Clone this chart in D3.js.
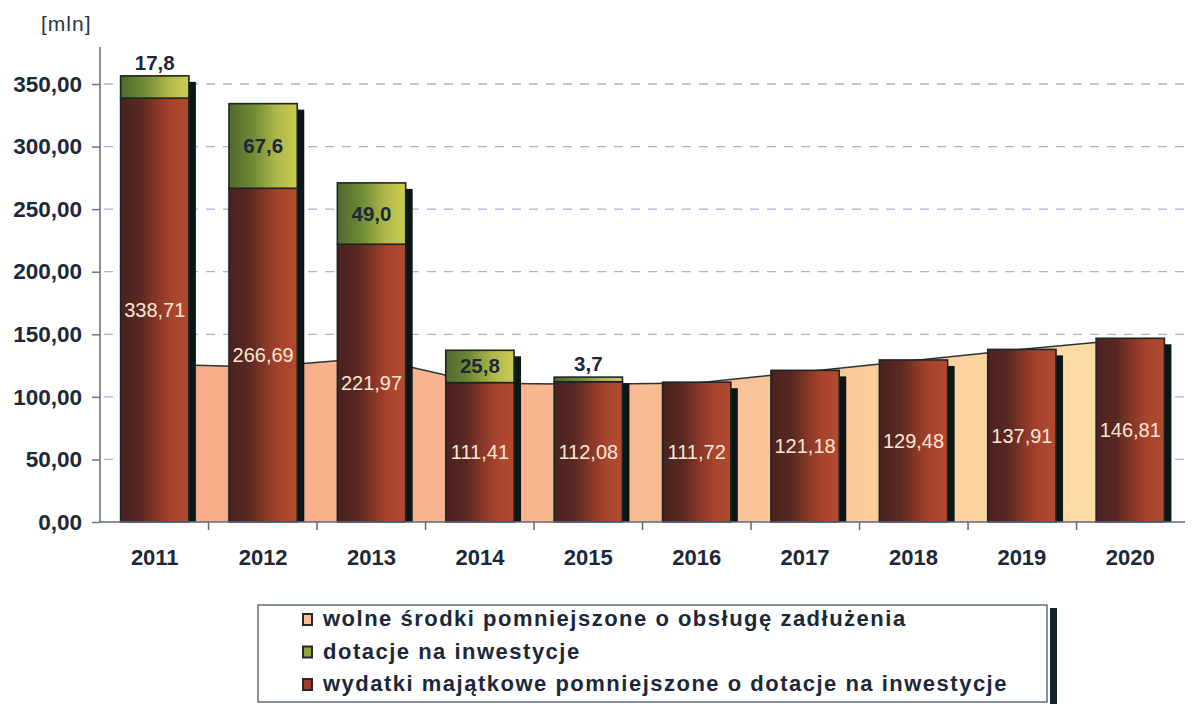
<!DOCTYPE html>
<html>
<head>
<meta charset="utf-8">
<script src="https://cdn.jsdelivr.net/npm/d3@7"></script>
<style>
  html, body { margin: 0; padding: 0; background: #fff; }
  svg { display: block; font-family: "Liberation Sans", Arial, sans-serif; }
</style>
</head>
<body>
<div id="chart"></div>
<script>
// categories and series (values in mln)
const years = ['2011', '2012', '2013', '2014', '2015', '2016', '2017', '2018', '2019', '2020'];
const wydatki = [338.71, 266.69, 221.97, 111.41, 112.08, 111.72, 121.18, 129.48, 137.91, 146.81];
const dotacje = [17.8, 67.6, 49.0, 25.8, 3.7, 0, 0, 0, 0, 0];
const wolneSrodki = [126, 124, 131, 111, 110, 111, 120, 129, 138, 146];
const yTicks = [0, 50, 100, 150, 200, 250, 300, 350];
const legendLabels = [
  'wolne środki pomniejszone o obsługę zadłużenia',
  'dotacje na inwestycje',
  'wydatki majątkowe pomniejszone o dotacje na inwestycje'
];

const width = 1193;
const height = 704;
const margin = { top: 47, right: 8, bottom: 182, left: 100 };

const pl = d3.formatLocale({ decimal: ',', thousands: ' ', grouping: [3], currency: ['', ''] });
const fmt2 = pl.format('.2f');
const fmt1 = pl.format('.1f');

const textColor = '#1c2838';
const edgeColor = '#1a2626';

function drawChart() {
  const svg = d3.select('#chart').append('svg').attr('width', width).attr('height', height);

  const defs = svg.append('defs');
  const redGrad = defs.append('linearGradient').attr('id', 'redGrad');
  [[0, '#4a221f'], [0.3, '#5a2822'], [0.55, '#8a3827'], [0.75, '#a8442d'], [1, '#b24a30']].forEach(([o, c]) =>
    redGrad.append('stop').attr('offset', o).attr('stop-color', c));
  const greenGrad = defs.append('linearGradient').attr('id', 'greenGrad');
  [[0, '#4f6a2e'], [0.35, '#6f8a36'], [0.7, '#b0b848'], [1, '#cccc52']].forEach(([o, c]) =>
    greenGrad.append('stop').attr('offset', o).attr('stop-color', c));
  const areaGrad = defs.append('linearGradient').attr('id', 'areaGrad')
    .attr('gradientUnits', 'userSpaceOnUse').attr('x1', margin.left).attr('x2', width - margin.right);
  [[0, '#f7aa88'], [0.45, '#f9b892'], [0.75, '#fccf9c'], [1, '#fde3a8']].forEach(([o, c]) =>
    areaGrad.append('stop').attr('offset', o).attr('stop-color', c));

  const x = d3.scaleBand().domain(years).range([margin.left, width - margin.right]).paddingInner(0.37).paddingOuter(0.19);
  const xc = d3.scalePoint().domain(years).range([margin.left, width - margin.right]).padding(0.5);
  const y = d3.scaleLinear().domain([0, 350]).range([height - margin.bottom, 84]);
  const y0 = y(0);

  // grid
  svg.append('g').selectAll('line').data(yTicks.slice(1)).join('line')
    .attr('x1', margin.left + 4).attr('x2', width - margin.right)
    .attr('y1', (d) => y(d)).attr('y2', (d) => y(d))
    .attr('stroke', '#adb1d8').attr('stroke-width', 1.3).attr('stroke-dasharray', '9,8');

  // area: wolne środki
  const area = d3.area().x((d, i) => xc(years[i])).y0(y0).y1((d) => y(d));
  const line = d3.line().x((d, i) => xc(years[i])).y((d) => y(d));
  svg.append('path').datum(wolneSrodki).attr('d', area).attr('fill', 'url(#areaGrad)');
  svg.append('path').datum(wolneSrodki).attr('d', line).attr('fill', 'none').attr('stroke', '#2a3434').attr('stroke-width', 1.5);

  // stacked bars
  const rows = years.map((yr, i) => ({ yr, red: wydatki[i], green: dotacje[i], total: wydatki[i] + dotacje[i] }));
  const bw = x.bandwidth();

  // shadows
  svg.append('g').selectAll('rect').data(rows).join('rect')
    .attr('x', (d) => x(d.yr) + 7).attr('y', (d) => y(d.total) + 6)
    .attr('width', bw).attr('height', (d) => y0 - y(d.total) - 6)
    .attr('fill', '#0c1616');

  const bars = svg.append('g');
  bars.selectAll('rect.red').data(rows).join('rect').attr('class', 'red')
    .attr('x', (d) => x(d.yr)).attr('y', (d) => y(d.red))
    .attr('width', bw).attr('height', (d) => y0 - y(d.red))
    .attr('fill', 'url(#redGrad)').attr('stroke', edgeColor).attr('stroke-width', 1.6);
  bars.selectAll('rect.green').data(rows.filter((d) => d.green > 0)).join('rect').attr('class', 'green')
    .attr('x', (d) => x(d.yr)).attr('y', (d) => y(d.total))
    .attr('width', bw).attr('height', (d) => y(d.red) - y(d.total))
    .attr('fill', 'url(#greenGrad)').attr('stroke', edgeColor).attr('stroke-width', 1.6);

  // labels inside red bars
  svg.append('g').selectAll('text').data(rows).join('text')
    .attr('x', (d) => x(d.yr) + bw / 2).attr('y', (d) => y(d.red / 2) + 7)
    .attr('text-anchor', 'middle').attr('font-size', 20).attr('fill', '#fde6d4')
    .text((d) => fmt2(d.red));

  // labels for dotacje
  svg.append('g').selectAll('text').data(rows.filter((d) => d.green > 0)).join('text')
    .attr('x', (d) => x(d.yr) + bw / 2)
    .attr('y', (d) => (d.green < 20 ? y(d.total) - 6 : y(d.red + d.green / 2) + 7))
    .attr('text-anchor', 'middle').attr('font-size', 20.5).attr('font-weight', 'bold').attr('fill', textColor)
    .text((d) => fmt1(d.green));

  // y axis
  const yAxis = svg.append('g').attr('transform', `translate(${margin.left},0)`)
    .call(d3.axisLeft(y).tickValues(yTicks).tickFormat(fmt2).tickSize(8).tickPadding(10));
  yAxis.select('.domain').attr('d', `M0,${margin.top}V${y0}`).attr('stroke', '#5e6a7a').attr('stroke-width', 1.5);
  yAxis.selectAll('.tick line').attr('stroke', '#6a7488').attr('stroke-width', 1.5);
  yAxis.selectAll('.tick text').attr('font-size', 22.5).attr('font-weight', 'bold').attr('fill', textColor)
    .attr('font-family', '"Liberation Sans", Arial, sans-serif');

  // x axis
  const xAxis = svg.append('g').attr('transform', `translate(0,${y0})`)
    .call(d3.axisBottom(x).tickSize(0).tickPadding(27));
  xAxis.select('.domain').attr('d', `M${margin.left},0H${width - margin.right}`).attr('stroke', '#5e6a7a').attr('stroke-width', 1.5);
  xAxis.selectAll('.tick text').attr('font-size', 22).attr('font-weight', 'bold').attr('fill', textColor)
    .attr('font-family', '"Liberation Sans", Arial, sans-serif');
  const step = x.step();
  xAxis.append('g').selectAll('line').data(years.slice(1)).join('line')
    .attr('x1', (d) => xc(d) - step / 2).attr('x2', (d) => xc(d) - step / 2)
    .attr('y1', 0).attr('y2', 8).attr('stroke', '#5e6a7a').attr('stroke-width', 1.5);

  // unit label
  svg.append('text').attr('x', 41).attr('y', 31).attr('font-size', 21).attr('letter-spacing', 1)
    .attr('fill', '#2a3440').text('[mln]');

  // legend
  const lg = svg.append('g').attr('transform', 'translate(258,605)');
  lg.append('rect').attr('x', 792).attr('y', 3).attr('width', 7).attr('height', 100).attr('fill', '#14222a');
  lg.append('rect').attr('x', 0).attr('y', 0).attr('width', 789).attr('height', 97)
    .attr('fill', '#fff').attr('stroke', '#4a5668').attr('stroke-width', 1.3);
  const swatches = ['#f8bd92', '#8ea43e', '#a23a2a'];
  const item = lg.selectAll('g.item').data(legendLabels).join('g').attr('class', 'item')
    .attr('transform', (d, i) => `translate(45,${20 + i * 32.5})`);
  item.append('rect').attr('x', 0).attr('y', -11).attr('width', 9).attr('height', 11)
    .attr('fill', (d, i) => swatches[i]).attr('stroke', '#1e2a30').attr('stroke-width', 2);
  item.append('text').attr('x', 20).attr('y', 1).attr('font-size', 22).attr('font-weight', 'bold')
    .attr('letter-spacing', 1.5).attr('fill', textColor).text((d) => d);
}

document.addEventListener('DOMContentLoaded', drawChart);
</script>
</body>
</html>
